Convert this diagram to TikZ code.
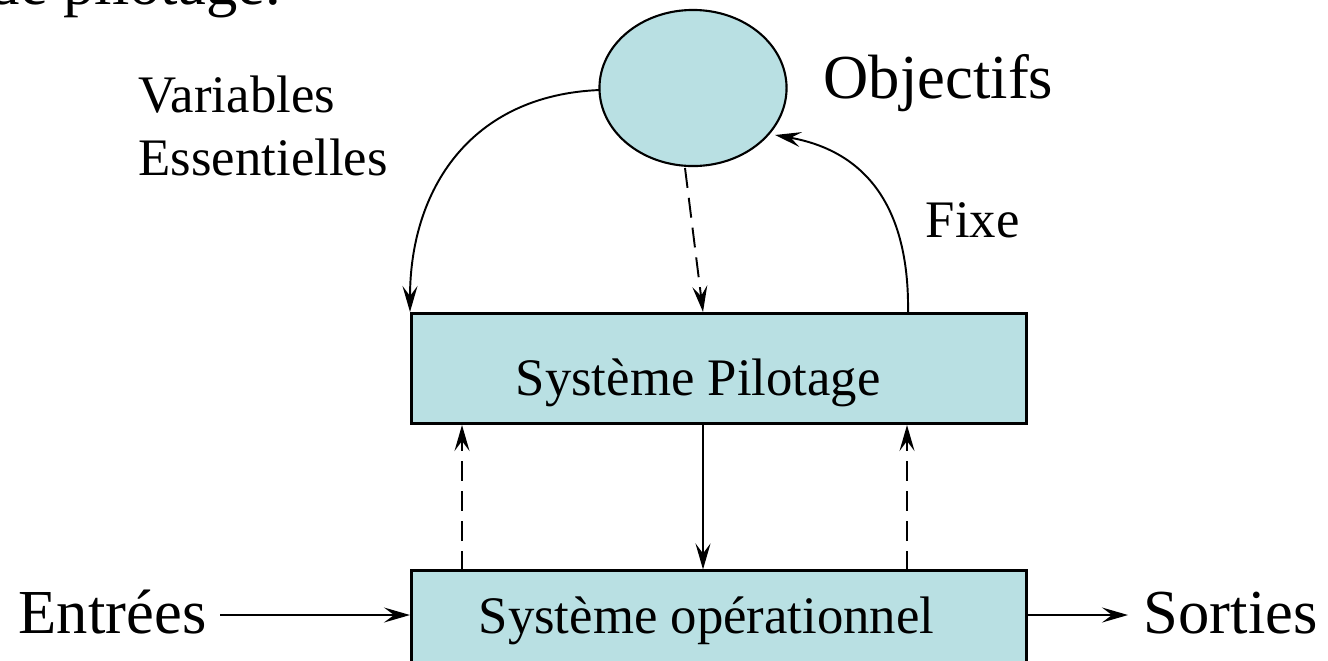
\documentclass[tikz,border=0pt]{standalone}
\usepackage{fontspec}
\setmainfont{Liberation Serif}
\usetikzlibrary{arrows.meta,shapes.geometric}
\definecolor{boxfill}{RGB}{185,224,227}
\tikzset{
  px/.style={x=0.01cm,y=-0.01cm},
  sysbox/.style={draw=black,line width=0.85pt,fill=boxfill,inner sep=0pt},
  conn/.style={line width=0.55pt,-{Stealth[length=0.26cm,width=0.15cm,inset=0.1cm]}},
  dashconn/.style={conn,dash pattern=on 0.2cm off 0.1cm},
  lbl/.style={inner sep=0pt,anchor=base west},
  bigtxt/.style={font=\fontsize{17.8pt}{21pt}\selectfont},
  midtxt/.style={font=\fontsize{15pt}{18pt}\selectfont},
}
\begin{document}
\begin{tikzpicture}[px]
\useasboundingbox (0,0) rectangle (1328,660);
\clip (0,0) rectangle (1328,660);
% partial caption at top
\node[lbl,bigtxt] (cap) at (-12,4) {de pilotage.};
% boxes
\node[sysbox,minimum width=6.14cm,minimum height=1.09cm] (P) at (719,368.5) {};
\node[sysbox,minimum width=6.14cm,minimum height=1.49cm] (O) at (719,645.5) {};
\node[lbl,midtxt] (ptxt) at (515,395) {Système Pilotage};
\node[lbl,midtxt] (otxt) at (478,633) {Système opérationnel};
% ellipse
\node[draw=black,line width=0.6pt,fill=boxfill,ellipse,minimum width=1.87cm,minimum height=1.56cm,inner sep=0pt] (E) at (693,88) {};
% labels
\node[lbl,bigtxt] (obj) at (823,98) {Objectifs};
\node[lbl,midtxt] (fix) at (925,237) {Fixe};
\node[lbl,midtxt] (var) at (138,112) {Variables};
\node[lbl,midtxt] (ess) at (138,175) {Essentielles};
\node[lbl,bigtxt] (ent) at (18,633) {Entrées};
\node[lbl,bigtxt] (sor) at (1143,633) {Sorties};
% connector end points
\coordinate (a1) at (600,90);
\coordinate (a2) at (410,312);
\coordinate (b1) at (685,168);
\coordinate (b2) at (703,312);
\coordinate (c1) at (908,314);
\coordinate (c2) at (775,135);
\coordinate (e1) at (462,571);
\coordinate (e2) at (462,425);
\coordinate (f1) at (907,571);
\coordinate (f2) at (907,425);
\coordinate (g1) at (220,615);
\coordinate (g2) at (410,615);
\coordinate (h1) at (1027,615);
\coordinate (h2) at (1128,615);
% connectors
\draw[conn] (a1) .. controls (470,95) and (410,190) .. (a2);
\draw[dashconn] (b1) -- (b2);
\draw[conn] (c1) .. controls (910,200) and (860,150) .. (c2);
\draw[conn] (P.south -| b2) -- (O.north -| b2);
\draw[dashconn] (e1) -- (e2);
\draw[dashconn] (f1) -- (f2);
\draw[conn] (g1) -- (g2);
\draw[conn] (h1) -- (h2);
\end{tikzpicture}
\end{document}
